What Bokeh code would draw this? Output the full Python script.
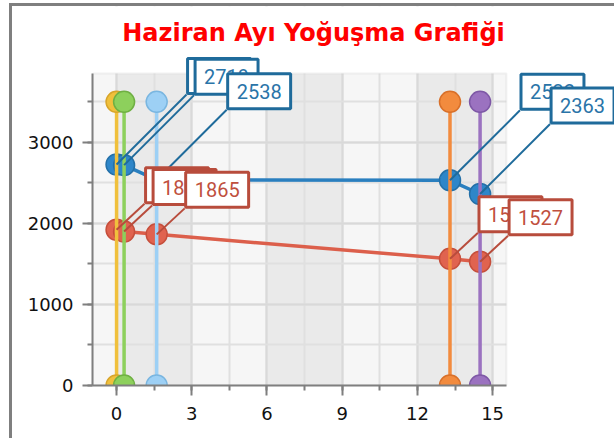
from bokeh.plotting import figure
from bokeh.models import Range1d, SingleIntervalTicker, BoxAnnotation, Label, ColumnDataSource
from bokeh.embed import file_html
from bokeh.resources import INLINE

# ---- data ----
point_x = [0.0, 0.3, 1.6, 13.3, 14.5]
blue_vals = [2727, 2719, 2538, 2532, 2363]
red_vals = [1921, 1899, 1865, 1563, 1527]
stem_x = [0.0, 0.3, 1.6, 13.3, 14.5]
stem_top = [3500, 3500, 3500, 3500, 3500]
stem_bottom = [0, 0, 0, 0, 0]
stem_colors = ["#f0c03c", "#8dd05c", "#9dd0f5", "#f28b3e", "#9b72c0"]
stem_edges = ["#d8a52a", "#6fb043", "#7ab6e0", "#d8702a", "#7e58a6"]
band_starts = [0, 6, 12]
band_width = 3
title_text = "Haziran Ayı Yoğuşma Grafiği"

# plot-area extent (data units) and scale
AX0, AX1 = -0.96, 15.55
AY0, AY1 = 0, 3850
PX_PER_X = 25.07
PX_PER_Y = 312 / 3850

FW, FH = 522, 379
X1 = AX0 + FW / PX_PER_X
Y1 = AY0 + FH / PX_PER_Y

p = figure(frame_width=FW, frame_height=FH, x_range=Range1d(AX0, X1), y_range=Range1d(AY0, Y1),
           output_backend="svg", toolbar_location=None,
           min_border_left=80, min_border_right=0, min_border_top=0, min_border_bottom=53,
           background_fill_color="white", border_fill_color="white")
p.title.visible = False
p.styles = {"margin-left": "9px", "margin-top": "3px",
            "border-left": "3px solid #7f7f7f", "border-top": "3px solid #7f7f7f"}
p.outline_line_color = None

# background of plot area + bands
bg = BoxAnnotation(left=AX0, right=AX1, bottom=AY0, top=AY1, fill_color="#f6f6f6", fill_alpha=1.0,
                   line_alpha=0, level="underlay")
bands = [BoxAnnotation(left=b, right=b + band_width, bottom=AY0, top=AY1, fill_color="#eaeaea",
                       fill_alpha=1.0, line_alpha=0, level="underlay") for b in band_starts]
cover_top = BoxAnnotation(bottom=AY1, fill_color="white", fill_alpha=1.0, line_alpha=0, level="underlay")
cover_right = BoxAnnotation(left=AX1, fill_color="white", fill_alpha=1.0, line_alpha=0, level="underlay")
outline = BoxAnnotation(left=AX0, right=AX1, bottom=AY0, top=AY1, fill_alpha=0,
                        line_color="#d2d2d2", line_width=2, level="underlay")

p.xaxis.ticker = SingleIntervalTicker(interval=3, num_minor_ticks=2)
p.yaxis.ticker = SingleIntervalTicker(interval=1000, num_minor_ticks=2)
p.xaxis.bounds = (AX0, AX1)
p.yaxis.bounds = (AY0, AY1)
for ax in (p.xaxis, p.yaxis):
    ax.axis_line_color = "#7f7f7f"
    ax.axis_line_width = 2
    ax.major_tick_line_color = "#7f7f7f"
    ax.major_tick_line_width = 2
    ax.minor_tick_line_color = "#7f7f7f"
    ax.minor_tick_line_width = 2
    ax.major_tick_in = 0
    ax.major_tick_out = 10
    ax.minor_tick_in = 0
    ax.minor_tick_out = 5
    ax.major_label_text_font = "DejaVu Sans"
    ax.major_label_text_font_size = "18px"
    ax.major_label_text_color = "#111111"
p.yaxis.major_label_standoff = 9
p.xaxis.major_label_standoff = 11

for g in (p.xgrid, p.ygrid):
    g.grid_line_color = "#d9d9d9"
    g.grid_line_width = 2
    g.minor_grid_line_color = "#e0e0e0"
    g.minor_grid_line_width = 2

p.center = [bg] + bands + [p.xgrid[0], p.ygrid[0], cover_top, cover_right, outline]

# series lines + points
p.line(point_x, blue_vals, line_color="#2a7fbf", line_width=3.5)
p.line(point_x, red_vals, line_color="#dc5f4b", line_width=3.5)
p.scatter(point_x, blue_vals, size=21, fill_color="#2e86c9", line_color="#2470a8", line_width=1.5)
p.scatter(point_x, red_vals, size=21, fill_color="#e0634f", line_color="#c64f3c", line_width=1.5)

# stems
stems = ColumnDataSource(dict(x=stem_x, top=stem_top, bottom=stem_bottom, c=stem_colors, e=stem_edges))
p.segment(x0="x", y0="bottom", x1="x", y1="top", source=stems, line_color="c", line_width=3.5)
p.scatter("x", "top", source=stems, size=21, fill_color="c", line_color="e", line_width=1.5)
p.scatter("x", "bottom", source=stems, size=21, fill_color="c", line_color="e", line_width=1.5)

# labels with leaders
def add_labels(vals, dx, dy, lead_col, txt_col):
    x1 = [x + dx / PX_PER_X for x in point_x]
    y1 = [v + dy / PX_PER_Y for v in vals]
    p.segment(x0=point_x, y0=vals, x1=x1, y1=y1, line_color=lead_col, line_width=2)
    for x, v in zip(point_x, vals):
        p.add_layout(Label(x=x, y=v, text=str(v), x_offset=dx + 1, y_offset=dy + 1,
                           text_align="left", text_baseline="bottom",
                           text_font="Roboto", text_font_size="20px", text_color=txt_col,
                           background_fill_color="white", background_fill_alpha=1.0,
                           border_line_color=lead_col, border_line_width=3,
                           padding=(9, 10)))

add_labels(blue_vals, 70, 70, "#1f6b9b", "#2a74a8")
add_labels(red_vals, 28, 26, "#b84c3c", "#c0503e")

# title
p.add_layout(Label(x=313 - 92, y=385 - 32, x_units="screen", y_units="screen", text=title_text,
                   text_align="center", text_baseline="middle", text_font="DejaVu Sans",
                   text_font_style="bold", text_font_size="24px", text_color="#ff0000"))

open("out.html", "w").write(file_html(p, INLINE))
